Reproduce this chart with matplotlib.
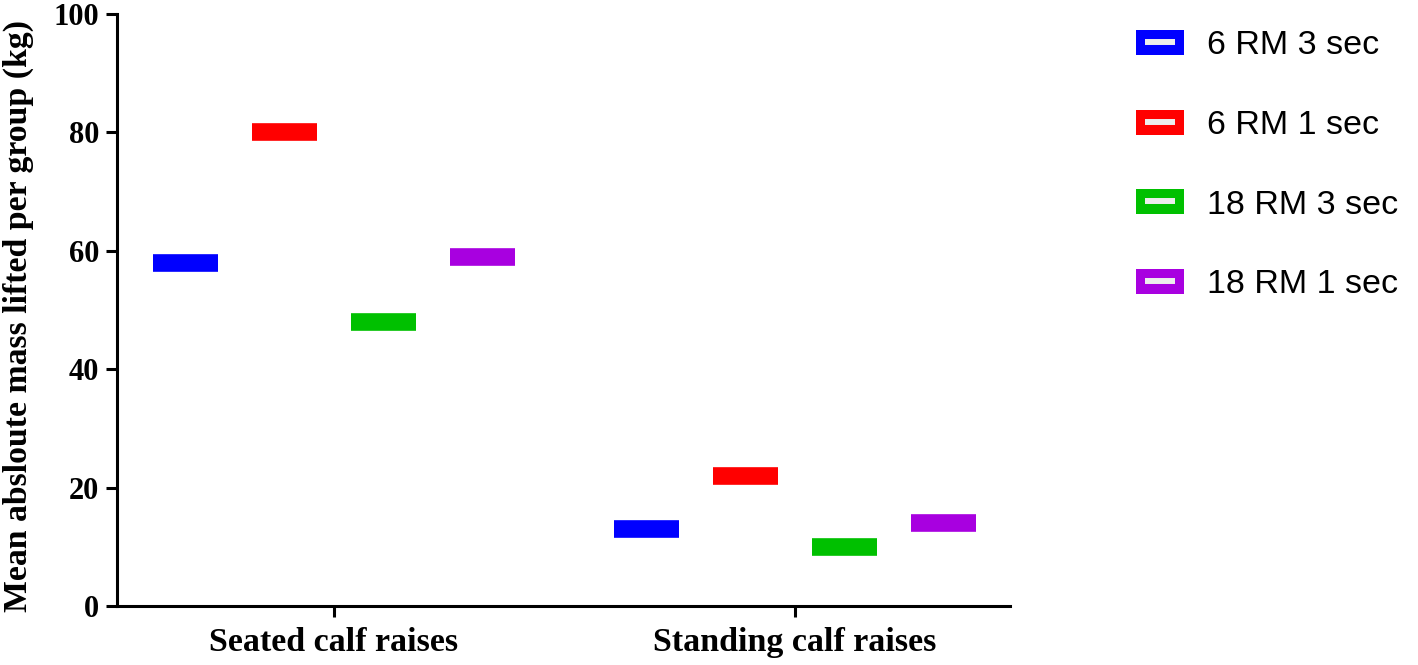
import matplotlib
matplotlib.use("Agg")
import matplotlib.pyplot as plt
from matplotlib.patches import Patch
from matplotlib.lines import Line2D
from matplotlib.legend_handler import HandlerTuple
from matplotlib.font_manager import FontProperties
import numpy as np

categories = ["Seated calf raises", "Standing calf raises"]
series_names = ["6 RM 3 sec", "6 RM 1 sec", "18 RM 3 sec", "18 RM 1 sec"]
rm6_3s = [58, 13]
rm6_1s = [80, 22]
rm18_3s = [48, 10]
rm18_1s = [59, 14]
series_values = [rm6_3s, rm6_1s, rm18_3s, rm18_1s]
colors = ["#0000FF", "#FF0000", "#00C000", "#A800E0"]
yticks = [0, 20, 40, 60, 80, 100]
ylabel = "Mean absloute mass lifted per group (kg)"

W, H = 1418, 665
fig = plt.figure(figsize=(W / 100, H / 100), dpi=100)
ax = fig.add_axes([117 / W, (H - 606) / H, (1010 - 117) / W, (606 - 14) / H])

group_x = np.arange(len(categories))
spacing = 0.215
width = 0.141
offsets = (np.arange(len(series_names)) - 1.5) * spacing

for vals, off, col in zip(series_values, offsets, colors):
    xc = group_x + off
    ax.hlines(vals, xc - width / 2, xc + width / 2, colors=col,
              linewidth=12.7, capstyle="butt", zorder=3)

ax.set_xlim(-0.4707, 1.466)
ax.set_ylim(0, 100)
ax.set_yticks(yticks)
ax.set_xticks(group_x)
ax.set_xticklabels(categories)

for s in ["top", "right"]:
    ax.spines[s].set_visible(False)
for s in ["left", "bottom"]:
    ax.spines[s].set_linewidth(2.2)
    ax.spines[s].set_color("black")
    ax.spines[s].set_capstyle("projecting")

serif = "Liberation Serif"
ax.tick_params(axis="both", width=2.2, length=8, direction="out", color="black")
ax.tick_params(axis="x", pad=7)
ax.tick_params(axis="y", pad=5)
for lab in ax.get_xticklabels():
    lab.set_fontproperties(FontProperties(family=serif, weight="bold", size=24.5))
for lab in ax.get_yticklabels():
    lab.set_fontproperties(FontProperties(family=serif, weight="bold", size=22))
ax.set_ylabel(ylabel, fontsize=24.3, family=serif, weight="bold")
ax.yaxis.set_label_coords(-0.093, 0.49)

handles = []
for col in colors:
    p = Patch(facecolor=col, edgecolor=col, linewidth=0)
    l = Line2D([], [], ls="none", marker="_", markersize=21,
               markeredgewidth=4.3, color="#EDEDED")
    handles.append((p, l))

leg = fig.legend(handles, series_names, loc="upper left",
                 bbox_to_anchor=(1136 / W, 1 - 30 / H), frameon=False,
                 prop=FontProperties(family="Liberation Sans", size=24.5),
                 handlelength=1.41, handleheight=0.75, handletextpad=0.68,
                 labelspacing=1.42, borderpad=0, borderaxespad=0,
                 handler_map={tuple: HandlerTuple(ndivide=1)})

fig.savefig("out.png", dpi=100)
